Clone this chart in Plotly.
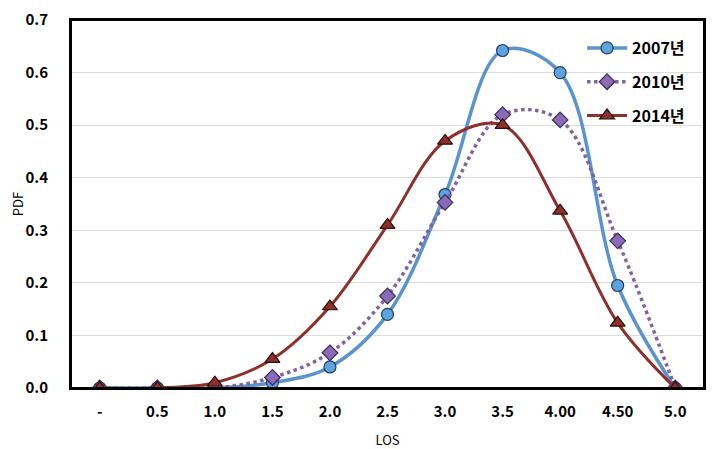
import plotly.graph_objects as go

# LOS categories and PDF values
los = ["-", "0.5", "1.0", "1.5", "2.0", "2.5", "3.0", "3.5", "4.00", "4.50", "5.0"]
pdf_2007 = [0, 0, 0, 0.01, 0.04, 0.14, 0.368, 0.642, 0.60, 0.195, 0]
pdf_2010 = [0, 0, 0, 0.02, 0.067, 0.175, 0.353, 0.52, 0.51, 0.28, 0]
pdf_2014 = [0, 0, 0.01, 0.055, 0.155, 0.31, 0.47, 0.50, 0.337, 0.124, 0]
yticks = [0, 0.1, 0.2, 0.3, 0.4, 0.5, 0.6, 0.7]

font = "Noto Sans CJK KR, Malgun Gothic, sans-serif"

fig = go.Figure()
fig.add_trace(go.Scatter(
    x=los, y=pdf_2007, name="2007년", mode="lines+markers", legendgroup="a",
    line=dict(color="#5B93CF", width=3.5, shape="spline", smoothing=1),
    marker=dict(symbol="circle", size=12, color="#5FA3DC",
                line=dict(color="#1F3F66", width=1.2))))
fig.add_trace(go.Scatter(
    x=los, y=pdf_2010, name="2010년", mode="lines+markers", legendgroup="b",
    line=dict(color="#8064A2", width=3.5, shape="spline", smoothing=1, dash="dot"),
    marker=dict(symbol="diamond", size=12, color="#8A6BB8",
                line=dict(color="#3A2A55", width=1.2))))
fig.add_trace(go.Scatter(
    x=los, y=pdf_2014, name="2014년", mode="lines+markers", legendgroup="c",
    line=dict(color="#8E2F2C", width=3, shape="spline", smoothing=1),
    marker=dict(symbol="triangle-up", size=13, color="#8E2F2C",
                line=dict(color="#2A0E0D", width=1.2))))

# page body has an 8px margin, so the figure is trimmed by that amount
fig.update_layout(
    width=720, height=441,
    margin=dict(l=63, r=24, t=12, b=61),
    paper_bgcolor="white", plot_bgcolor="white",
    font=dict(family=font, color="black"),
    showlegend=True,
    legend=dict(x=0.978, y=0.97, xanchor="right", yanchor="top",
                bgcolor="rgba(0,0,0,0)", itemwidth=40,
                traceorder="grouped", tracegroupgap=10,
                font=dict(size=16, family=font, weight="bold")),
)
# plot-area frame
fig.add_shape(type="rect", xref="paper", yref="paper", x0=0, x1=1, y0=0, y1=1,
              line=dict(color="black", width=2), layer="above")
fig.update_xaxes(
    type="category", range=[-0.5, 10.5], automargin=False,
    showgrid=False, showline=True, linecolor="black", linewidth=2, mirror=True,
    ticks="", tickfont=dict(size=15, weight="bold"), ticklabelstandoff=9,
    title=dict(text="LOS", font=dict(size=13), standoff=20))
fig.update_yaxes(
    range=[0, 0.7], tickvals=yticks, tickformat=".1f", automargin=False,
    ticklabeloverflow="allow",
    showgrid=True, gridcolor="#DCDCDC", gridwidth=1, zeroline=False,
    showline=True, linecolor="black", linewidth=2, mirror=True,
    ticks="", tickfont=dict(size=15, weight="bold"), ticklabelstandoff=18,
    title=dict(text="PDF", font=dict(size=13), standoff=16))

fig.write_html("out.html")
